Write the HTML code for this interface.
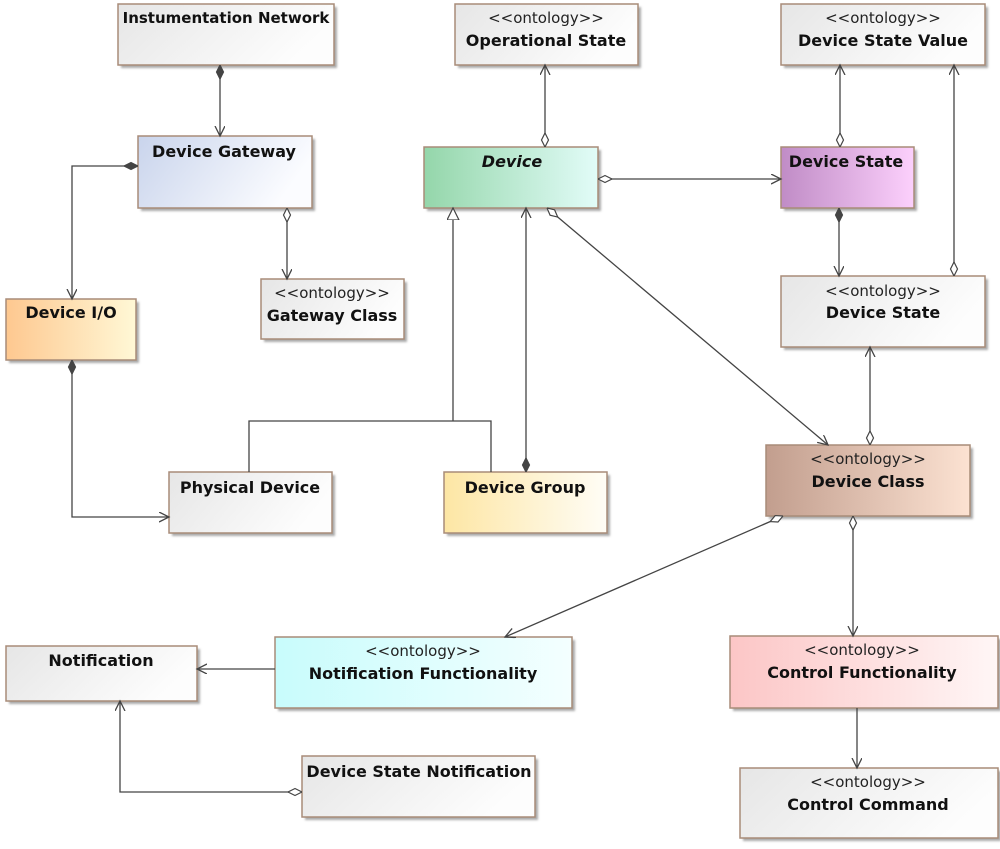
<!DOCTYPE html>
<html><head><meta charset="utf-8"><style>
html,body{margin:0;padding:0;background:#fff;}
svg text{font-family:"DejaVu Sans","Liberation Sans",sans-serif;fill:#111;}
.t{font-size:16px;font-weight:bold;}
.s{font-size:15px;fill:#222;}
</style></head><body>
<svg width="1000" height="844" viewBox="0 0 1000 844" xmlns="http://www.w3.org/2000/svg">
<defs>
<filter id="sh" x="-10%" y="-10%" width="130%" height="140%"><feGaussianBlur stdDeviation="1"/></filter>
<linearGradient id="gGray" x1="0" x2="1" y1="0" y2="0.3"><stop offset="0" stop-color="#e6e6e6"/><stop offset="1" stop-color="#fdfdfd"/></linearGradient>
<linearGradient id="gGw" x1="0" x2="1" y1="0" y2="0.3"><stop offset="0" stop-color="#c9d4ec"/><stop offset="1" stop-color="#fbfcff"/></linearGradient>
<linearGradient id="gDev" x1="0" x2="1"><stop offset="0" stop-color="#94d6aa"/><stop offset="1" stop-color="#e2fcf8"/></linearGradient>
<linearGradient id="gDs" x1="0" x2="1"><stop offset="0" stop-color="#c08cc6"/><stop offset="1" stop-color="#fcd0fc"/></linearGradient>
<linearGradient id="gIo" x1="0" x2="1"><stop offset="0" stop-color="#fec890"/><stop offset="1" stop-color="#fff8d6"/></linearGradient>
<linearGradient id="gGrp" x1="0" x2="1"><stop offset="0" stop-color="#fde6a4"/><stop offset="1" stop-color="#fffdf6"/></linearGradient>
<linearGradient id="gCls" x1="0" x2="1"><stop offset="0" stop-color="#c29e8e"/><stop offset="1" stop-color="#fce2d2"/></linearGradient>
<linearGradient id="gNf" x1="0" x2="1"><stop offset="0" stop-color="#c8fcfc"/><stop offset="1" stop-color="#f4ffff"/></linearGradient>
<linearGradient id="gCf" x1="0" x2="1"><stop offset="0" stop-color="#fcc6c6"/><stop offset="1" stop-color="#fff6f6"/></linearGradient>
<marker id="arr" markerUnits="userSpaceOnUse" markerWidth="12" markerHeight="12" refX="10" refY="5" orient="auto"><path d="M0,0 L10,5 L0,10" fill="none" stroke="#444" stroke-width="1.3"/></marker>
<marker id="tri" markerUnits="userSpaceOnUse" markerWidth="14" markerHeight="14" refX="12" refY="6" orient="auto"><path d="M0,0 L12,6 L0,12 z" fill="#fff" stroke="#444" stroke-width="1.2"/></marker>
<marker id="dh" markerUnits="userSpaceOnUse" markerWidth="16" markerHeight="12" refX="0" refY="5" orient="auto"><path d="M0,5 L7,1.5 L14,5 L7,8.5 z" fill="#fff" stroke="#444" stroke-width="1.2"/></marker>
<marker id="df" markerUnits="userSpaceOnUse" markerWidth="16" markerHeight="12" refX="0" refY="5" orient="auto"><path d="M0,5 L7,1.5 L14,5 L7,8.5 z" fill="#444" stroke="#444" stroke-width="1.2"/></marker>
</defs>

<!-- boxes -->
<g stroke="#a88c78" stroke-width="1.5">
<g fill="#aaa" stroke="none" filter="url(#sh)">
<rect x="121" y="7" width="216" height="61"/><rect x="458" y="7" width="183" height="61"/><rect x="784" y="7" width="204" height="61"/>
<rect x="141" y="139" width="174" height="72"/><rect x="427" y="150" width="174" height="61"/><rect x="784" y="150" width="133" height="61"/>
<rect x="264" y="282" width="143" height="60"/><rect x="784" y="279" width="204" height="71"/><rect x="9" y="302" width="130" height="61"/>
<rect x="172" y="475" width="163" height="61"/><rect x="447" y="475" width="163" height="61"/><rect x="769" y="448" width="204" height="71"/>
<rect x="9" y="649" width="191" height="55"/><rect x="278" y="640" width="297" height="71"/><rect x="733" y="639" width="268" height="72"/>
<rect x="305" y="759" width="233" height="61"/><rect x="743" y="771" width="258" height="70"/>
</g>
<rect x="118" y="4" width="216" height="61" fill="url(#gGray)"/>
<rect x="455" y="4" width="183" height="61" fill="url(#gGray)"/>
<rect x="781" y="4" width="204" height="61" fill="url(#gGray)"/>
<rect x="138" y="136" width="174" height="72" fill="url(#gGw)"/>
<rect x="424" y="147" width="174" height="61" fill="url(#gDev)"/>
<rect x="781" y="147" width="133" height="61" fill="url(#gDs)"/>
<rect x="261" y="279" width="143" height="60" fill="url(#gGray)"/>
<rect x="781" y="276" width="204" height="71" fill="url(#gGray)"/>
<rect x="6" y="299" width="130" height="61" fill="url(#gIo)"/>
<rect x="169" y="472" width="163" height="61" fill="url(#gGray)"/>
<rect x="444" y="472" width="163" height="61" fill="url(#gGrp)"/>
<rect x="766" y="445" width="204" height="71" fill="url(#gCls)"/>
<rect x="6" y="646" width="191" height="55" fill="url(#gGray)"/>
<rect x="275" y="637" width="297" height="71" fill="url(#gNf)"/>
<rect x="730" y="636" width="268" height="72" fill="url(#gCf)"/>
<rect x="302" y="756" width="233" height="61" fill="url(#gGray)"/>
<rect x="740" y="768" width="258" height="70" fill="url(#gGray)"/>
</g>

<!-- connectors -->
<g fill="none" stroke="#444" stroke-width="1.3">
<path d="M220,65 L220,136" marker-start="url(#df)" marker-end="url(#arr)"/>
<path d="M138,166 L72,166 L72,299" marker-start="url(#df)" marker-end="url(#arr)"/>
<path d="M287,208 L287,279" marker-start="url(#dh)" marker-end="url(#arr)"/>
<path d="M72,360 L72,517 L169,517" marker-start="url(#df)" marker-end="url(#arr)"/>
<path d="M249,472 L249,421 L491,421 L491,472"/>
<path d="M453,421 L453,208" marker-end="url(#tri)"/>
<path d="M526,472 L526,208" marker-start="url(#df)" marker-end="url(#arr)"/>
<path d="M547,208 L828,445" marker-start="url(#dh)" marker-end="url(#arr)"/>
<path d="M545,147 L545,65" marker-start="url(#dh)" marker-end="url(#arr)"/>
<path d="M598,179 L781,179" marker-start="url(#dh)" marker-end="url(#arr)"/>
<path d="M840,147 L840,65" marker-start="url(#dh)" marker-end="url(#arr)"/>
<path d="M839,208 L839,276" marker-start="url(#df)" marker-end="url(#arr)"/>
<path d="M954,276 L954,65" marker-start="url(#dh)" marker-end="url(#arr)"/>
<path d="M870,445 L870,347" marker-start="url(#dh)" marker-end="url(#arr)"/>
<path d="M783,516 L505,637" marker-start="url(#dh)" marker-end="url(#arr)"/>
<path d="M853,516 L853,636" marker-start="url(#dh)" marker-end="url(#arr)"/>
<path d="M275,669 L197,669" marker-end="url(#arr)"/>
<path d="M302,792 L120,792 L120,701" marker-start="url(#dh)" marker-end="url(#arr)"/>
<path d="M857,708 L857,768" marker-end="url(#arr)"/>
</g>

<!-- text -->
<g text-anchor="middle">
<text class="t" x="226" y="23" style="font-size:15px">Instumentation Network</text>
<text class="s" x="546" y="23">&lt;&lt;ontology&gt;&gt;</text><text class="t" x="546" y="46">Operational State</text>
<text class="s" x="883" y="23">&lt;&lt;ontology&gt;&gt;</text><text class="t" x="883" y="46">Device State Value</text>
<text class="t" x="224" y="157">Device Gateway</text>
<text class="t" x="512" y="167" font-style="italic">Device</text>
<text class="t" x="846" y="167">Device State</text>
<text class="s" x="332" y="298">&lt;&lt;ontology&gt;&gt;</text><text class="t" x="332" y="321">Gateway Class</text>
<text class="s" x="883" y="296">&lt;&lt;ontology&gt;&gt;</text><text class="t" x="883" y="318">Device State</text>
<text class="t" x="71" y="318">Device I/O</text>
<text class="t" x="250" y="493">Physical Device</text>
<text class="t" x="525" y="493">Device Group</text>
<text class="s" x="868" y="464">&lt;&lt;ontology&gt;&gt;</text><text class="t" x="868" y="487">Device Class</text>
<text class="t" x="101" y="666">Notification</text>
<text class="s" x="423" y="656">&lt;&lt;ontology&gt;&gt;</text><text class="t" x="423" y="679">Notification Functionality</text>
<text class="s" x="862" y="655">&lt;&lt;ontology&gt;&gt;</text><text class="t" x="862" y="678">Control Functionality</text>
<text class="t" x="419" y="777">Device State Notification</text>
<text class="s" x="868" y="787">&lt;&lt;ontology&gt;&gt;</text><text class="t" x="868" y="810">Control Command</text>
</g>
</svg>
</body></html>
